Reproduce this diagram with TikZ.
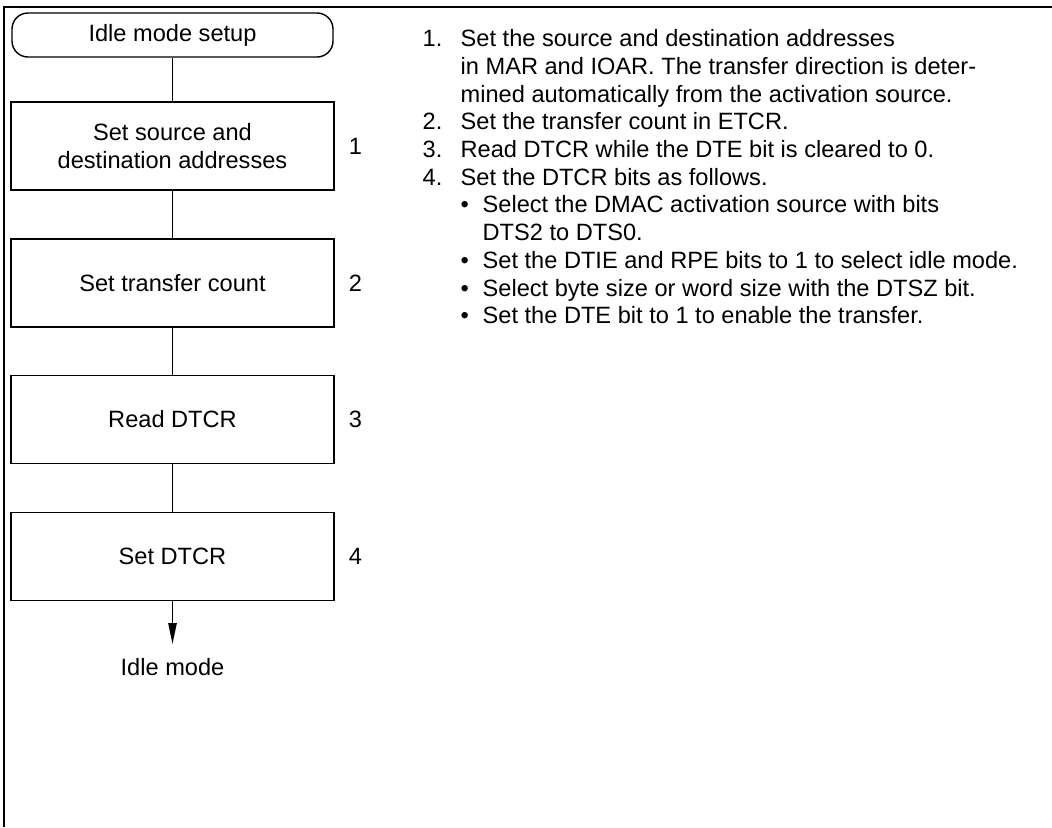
\documentclass[tikz,border=0pt]{standalone}
\usepackage{fontspec}
\setmainfont{Liberation Sans}
\usetikzlibrary{arrows.meta}
\newcommand{\chartfont}{\fontsize{11.8}{13.85}\selectfont}
\newcommand{\numcol}[1]{\makebox[19pt][l]{#1}}
\newcommand{\dotcol}[1]{\makebox[11pt][l]{#1}}
\tikzset{
  start blob/.style={
    rectangle, rounded corners=8pt, draw=black, fill=white,
    inner sep=0pt, minimum width=160.5pt, minimum height=22pt, font=\chartfont
  },
  proc box/.style={
    rectangle, draw=black, fill=white, align=center,
    inner sep=0pt, minimum width=161.5pt, minimum height=44pt, font=\chartfont
  },
  step num/.style={
    inner sep=0pt, font=\chartfont
  },
  flow arrow/.style={
    -{Triangle[length=10.5pt,width=4.2pt]}
  }
}

\begin{document}
\begin{tikzpicture}[x=0.5pt, y=-0.5pt, line width=0.7pt]
\useasboundingbox (0,0) rectangle (1052,827);

% ---------------------------
% frame
% ---------------------------
\draw (4,827) -- (4,7) -- (1052,7);

% ---------------------------
% flow chart
% ---------------------------
\node[start blob] (start) at (172.5,35) {Idle mode setup};
\node[proc box] (b1) at (172.5,146) {Set source and\\destination addresses};
\node[proc box] (b2) at (172.5,283) {Set transfer count};
\node[proc box] (b3) at (172.5,419.5) {Read DTCR};
\node[proc box] (b4) at (172.5,556.5) {Set DTCR};

\node[step num] (n1) at (355.5,146) {1};
\node[step num] (n2) at (355.5,283) {2};
\node[step num] (n3) at (355.5,419.5) {3};
\node[step num] (n4) at (355.5,556.5) {4};

\coordinate (tip) at (172.5,644);
\node[step num, anchor=base] (idle) at (172.5,675) {Idle mode};

\draw (start) -- (b1);
\draw (b1) -- (b2);
\draw (b2) -- (b3);
\draw (b3) -- (b4);
\draw[flow arrow] (b4) -- (tip);

% ---------------------------
% notes
% ---------------------------
\node[anchor=north west, inner sep=0pt, align=left, font=\chartfont] (notes) at (422,26.6) {%
\strut\numcol{1.}Set the source and destination addresses\\
\numcol{}in MAR and IOAR. The transfer direction is deter-\\
\numcol{}mined automatically from the activation source.\\
\numcol{2.}Set the transfer count in ETCR.\\
\numcol{3.}Read DTCR while the DTE bit is cleared to 0.\\
\numcol{4.}Set the DTCR bits as follows.\\
\numcol{}\dotcol{\textbullet}Select the DMAC activation source with bits\\
\numcol{}\dotcol{}DTS2 to DTS0.\\
\numcol{}\dotcol{\textbullet}Set the DTIE and RPE bits to 1 to select idle mode.\\
\numcol{}\dotcol{\textbullet}Select byte size or word size with the DTSZ bit.\\
\numcol{}\dotcol{\textbullet}Set the DTE bit to 1 to enable the transfer.};

\end{tikzpicture}
\end{document}
